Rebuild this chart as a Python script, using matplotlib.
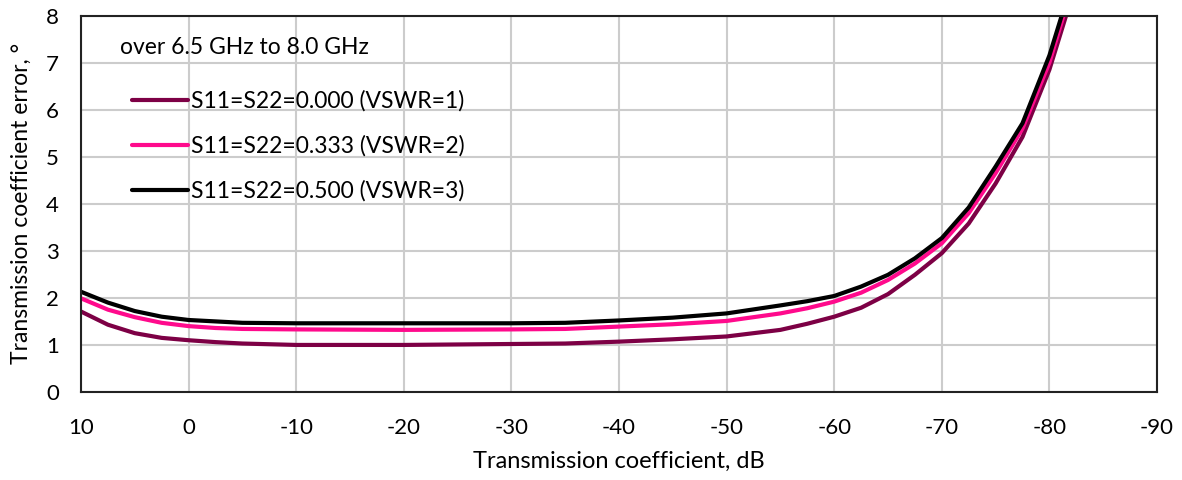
import matplotlib
matplotlib.use("Agg")
import matplotlib.pyplot as plt

plt.rcParams['font.family'] = ['Lato', 'DejaVu Sans']

x_db = [10, 7.5, 5, 2.5, 0, -2.5, -5, -10, -20, -30, -35, -40, -45, -50, -55, -57.5,
        -60, -62.5, -65, -67.5, -70, -72.5, -75, -77.5, -80, -82.5]

err_vswr1 = [1.71, 1.43, 1.25, 1.15, 1.10, 1.06, 1.03, 1.00, 1.00, 1.02, 1.03, 1.07,
             1.12, 1.18, 1.32, 1.45, 1.60, 1.79, 2.08, 2.49, 2.95, 3.58, 4.43, 5.42, 6.85, 8.7]
err_vswr2 = [1.99, 1.75, 1.59, 1.47, 1.40, 1.36, 1.34, 1.33, 1.32, 1.33, 1.34, 1.39,
             1.44, 1.51, 1.67, 1.78, 1.92, 2.11, 2.38, 2.73, 3.16, 3.80, 4.65, 5.60, 7.00, 8.9]
err_vswr3 = [2.13, 1.90, 1.72, 1.60, 1.53, 1.50, 1.47, 1.46, 1.46, 1.46, 1.47, 1.52,
             1.58, 1.67, 1.84, 1.93, 2.04, 2.24, 2.49, 2.84, 3.27, 3.92, 4.79, 5.71, 7.15, 9.0]

title_text = "over 6.5 GHz to 8.0 GHz"
labels = ["S11=S22=0.000 (VSWR=1)", "S11=S22=0.333 (VSWR=2)", "S11=S22=0.500 (VSWR=3)"]
colors = ["#7d0045", "#ff0a8c", "#000000"]
x_ticks = [10, 0, -10, -20, -30, -40, -50, -60, -70, -80, -90]
y_ticks = [0, 1, 2, 3, 4, 5, 6, 7, 8]

fig = plt.figure(figsize=(11.82, 4.8), dpi=100)
ax = fig.add_axes([81/1182, 1-392/480, (1157-81)/1182, (392-15.5)/480])

for ys, lab, c in zip([err_vswr1, err_vswr2, err_vswr3], labels, colors):
    ax.plot(x_db, ys, color=c, lw=3.0, label=lab, solid_capstyle='round')

ax.set_xlim(10, -90)
ax.set_ylim(0, 8)
ax.set_xticks(x_ticks)
ax.set_xticklabels([str(t) for t in x_ticks])
ax.set_yticks(y_ticks)
ax.grid(True, color="#cccccc", lw=1.5)
ax.set_axisbelow(True)
ax.tick_params(length=0, labelsize=16)
ax.tick_params(axis='x', pad=19)
ax.tick_params(axis='y', pad=16)
for s in ax.spines.values():
    s.set_color("#222222")
    s.set_linewidth(1.5)

ax.set_xlabel("Transmission coefficient, dB", fontsize=17, labelpad=9)
ax.set_ylabel("Transmission coefficient error, °", fontsize=16.5, labelpad=10)

ax.text(0.036, 0.916, title_text, transform=ax.transAxes, ha='left', va='center',
        fontsize=16.5)
leg = ax.legend(loc="upper left", bbox_to_anchor=(0.0283, 0.856), frameon=False,
                fontsize=16.5, handlelength=2.45, handletextpad=0.13,
                labelspacing=1.02)

fig.savefig("out.png", dpi=100, facecolor="white")
